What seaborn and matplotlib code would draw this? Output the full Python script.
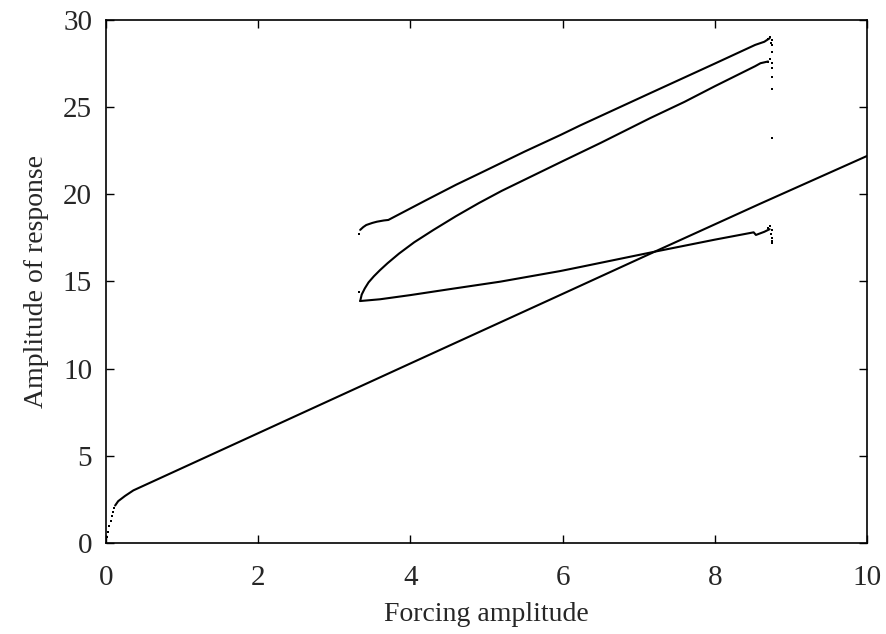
import matplotlib
matplotlib.use("Agg")
import matplotlib.pyplot as plt
import pandas as pd
import seaborn as sns

# main branch (steep sampled start, then the continuous curve)
start_x = [0.0, 0.015, 0.03, 0.045, 0.06, 0.075, 0.09, 0.105]
start_y = [0.05, 0.35, 0.65, 0.95, 1.25, 1.55, 1.8, 2.0]
main_x = [0.12, 0.16, 0.25, 0.36, 1.0, 2.0, 4.0, 5.83, 6.14, 7.21, 8.59, 10.0]
main_y = [2.15, 2.4, 2.7, 3.02, 4.3, 6.3, 10.3, 13.95, 14.57, 16.71, 19.45, 22.2]

# upper branch
upper_x = [3.34, 3.38, 3.42, 3.5, 3.56, 3.65, 3.71, 3.85, 4.2, 4.6, 4.91, 5.5,
           5.97, 6.23, 7.15, 8.0, 8.53, 8.65, 8.72]
upper_y = [17.96, 18.12, 18.24, 18.36, 18.43, 18.5, 18.53, 18.85, 19.65, 20.55,
           21.2, 22.45, 23.4, 23.95, 25.8, 27.5, 28.57, 28.75, 28.95]

# middle branch
middle_x = [3.34, 3.36, 3.4, 3.45, 3.52, 3.6, 3.7, 3.85, 4.05, 4.3, 4.6, 4.9,
            5.2, 5.6, 6.0, 6.5, 7.15, 7.6, 8.0, 8.53, 8.6, 8.7]
middle_y = [13.88, 14.25, 14.6, 14.95, 15.3, 15.65, 16.05, 16.6, 17.25, 17.95,
            18.75, 19.5, 20.2, 21.05, 21.9, 22.95, 24.37, 25.3, 26.2, 27.35,
            27.52, 27.62]

# lower branch
lower_x = [3.34, 3.6, 4.0, 4.5, 5.18, 5.97, 6.23, 7.21, 8.0, 8.51, 8.54, 8.65, 8.72]
lower_y = [13.88, 13.98, 14.22, 14.55, 14.99, 15.6, 15.83, 16.71, 17.4, 17.82,
           17.67, 17.85, 18.0]

# scattered points near the end of the branches and at the branch starts
dots_x = [3.33, 3.33, 8.70, 8.73, 8.75, 8.74, 8.75, 8.75, 8.70, 8.73, 8.75,
          8.75, 8.75, 8.75, 8.75, 8.70, 8.73, 8.75, 8.74, 8.75, 8.75, 8.75]
dots_y = [17.71, 14.42, 28.9, 29.0, 28.85, 28.7, 28.57, 28.19, 27.6, 27.75,
          27.55, 27.23, 26.72, 26.03, 23.22, 18.05, 18.2, 17.95, 17.75, 17.48,
          17.34, 17.23]

sns.set_style("ticks")
plt.rcParams["font.family"] = ["Liberation Serif", "DejaVu Serif"]
plt.rcParams["font.size"] = 20

fig = plt.figure(figsize=(8.87, 6.34), dpi=100)
ax = fig.add_axes([0.1195, 0.1435, 0.858, 0.825])

branches = [(main_x, main_y), (upper_x, upper_y), (middle_x, middle_y), (lower_x, lower_y)]
for bx, by in branches:
    sns.lineplot(x=bx, y=by, ax=ax, sort=False, estimator=None, color="black",
                 linewidth=1.5)

dots = pd.DataFrame({"x": start_x + dots_x, "y": start_y + dots_y})
sns.scatterplot(data=dots, x="x", y="y", ax=ax, color="black", s=4,
                linewidth=0, marker="s")

ax.set_xlim(0, 10)
ax.set_ylim(0, 30)
ax.set_xticks([0, 2, 4, 6, 8, 10])
ax.set_yticks([0, 5, 10, 15, 20, 25, 30])
ax.tick_params(direction="in", length=6, width=1, top=True, right=True,
               labelsize=21, color="black")
ax.tick_params(axis="x", pad=16)
ax.tick_params(axis="y", pad=10)
for s in ax.spines.values():
    s.set_linewidth(1.2)
    s.set_color("black")

ax.set_xlabel("Forcing amplitude", fontsize=20, labelpad=8)
ax.set_ylabel("Amplitude of response", fontsize=20, labelpad=10)

fig.savefig("out.png", dpi=100, facecolor="white")
